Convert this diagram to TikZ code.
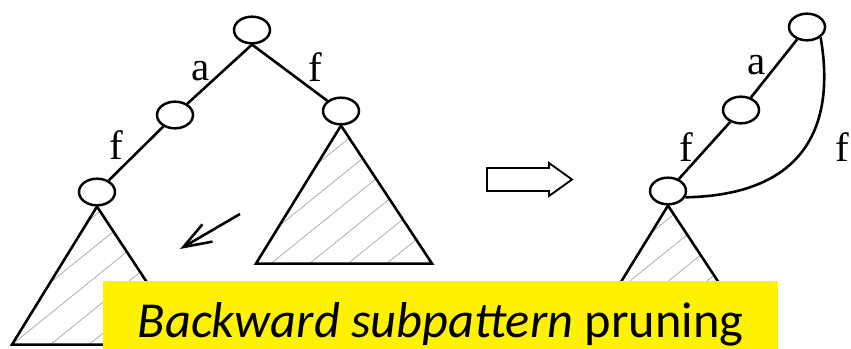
\documentclass[tikz,border=0pt]{standalone}
\usepackage{fontspec}
\setmainfont{Liberation Serif}
\newfontfamily\capfont{Carlito}
\usetikzlibrary{arrows.meta,positioning,calc,shapes.geometric}

\begin{document}
\begin{tikzpicture}[
  x=0.03cm, y=-0.03cm,
  vertex/.style={draw, ellipse, line width=2.1pt, minimum width=1.08cm, minimum height=0.8cm, inner sep=0pt},
  branch/.style={line width=2.2pt},
  lab/.style={font=\fontsize{35}{40}\selectfont, inner sep=0pt},
  hatchline/.style={gray!70, line width=0.6pt},
  hollow/.style={draw, line width=1.6pt},
  capbox/.style={fill=yellow, minimum width=20.25cm, minimum height=2.04cm, inner sep=0pt},
  captext/.style={font=\capfont\fontsize{43}{50}\selectfont, inner sep=0pt}
]
\useasboundingbox (0,0) rectangle (851,349);

% Pattern tree before pruning
\node[vertex] (root) at (252,30) {};
\node[vertex] (va) at (175,115) {};
\node[vertex] (vf) at (97,192) {};
\node[vertex] (vr) at (341,111) {};
\draw[branch] (root.south) -- (va);
\draw[branch] (root.south) -- (vr);
\draw[branch] (va) -- (vf);
\node[lab] (la) at (201,71) {a};
\node[lab] (lr) at (315,67) {f};
\node[lab] (lf) at (116,145) {f};

% Pattern tree after pruning
\node[vertex] (pt) at (807,27) {};
\node[vertex] (pm) at (741,110) {};
\node[vertex] (pb) at (668,191) {};
\draw[branch] (pt) -- (pm);
\draw[branch] (pm) -- (pb);
\draw[branch] (pt.south east) .. controls (835,120) and (810,195) .. (pb.-20);
\node[lab] (qa) at (757,65) {a};
\node[lab] (qf) at (686,147) {f};
\node[lab] (qr) at (842,147) {f};

% Hatched subtrees
\foreach \n/\o in {vf/0, vr/15, pb/8} {
  \begin{scope}
    \clip (\n.south) -- ++(-85,138) -- ++(176,0) -- cycle;
    \foreach \k in {-5,...,6}
      \draw[hatchline] ($(\n.south)+(-85+\o+38.5*\k,138)$) -- ++(250,-202);
  \end{scope}
  \draw[branch] (\n.south) -- ++(-85,138) -- ++(176,0) -- cycle;
}

% Pruning direction
\coordinate (from) at (240,214);
\coordinate (to) at (180,249);
\draw[branch, -{Straight Barb[length=0.84cm, width=0.6cm]}] (from) -- (to);

% Implication arrow
\draw[hollow] (487,168) -- (549,168) -- (549,163) -- (572,179.5) -- (549,196) -- (549,191) -- (487,191) -- cycle;

% Caption
\node[capbox] (caption) at (440.5,315) {};
\node[captext, anchor=base] (captxt) at ([yshift=0.36cm]caption.south) {\textit{Backward subpattern} pruning};

\end{tikzpicture}
\end{document}
